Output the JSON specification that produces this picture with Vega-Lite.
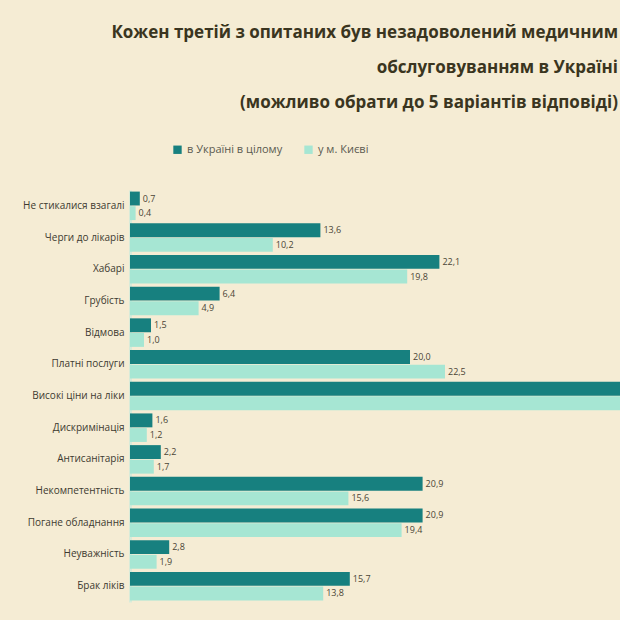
{
  "$schema": "https://vega.github.io/schema/vega-lite/v6.json",
  "autosize": {"type": "none"},
  "width": 490,
  "height": 412,
  "padding": {"left": 130, "top": 190, "right": 0, "bottom": 18},
  "background": "#f5ecd4",
  "title": {
    "text": [
      "Кожен третій з опитаних був незадоволений медичним",
      "обслуговуванням в Україні",
      "(можливо обрати до 5 варіантів відповіді)"
    ],
    "anchor": "end",
    "align": "right",
    "frame": "group",
    "dx": -2,
    "offset": 32,
    "fontSize": 17,
    "fontWeight": "bold",
    "font": "Open Sans",
    "color": "#3a3520",
    "lineHeight": 35
  },
  "data": {
    "values": [
      {"category": "Не стикалися взагалі", "series": "в Україні в цілому", "value": 0.7},
      {"category": "Не стикалися взагалі", "series": "у м. Києві", "value": 0.4},
      {"category": "Черги до лікарів", "series": "в Україні в цілому", "value": 13.6},
      {"category": "Черги до лікарів", "series": "у м. Києві", "value": 10.2},
      {"category": "Хабарі", "series": "в Україні в цілому", "value": 22.1},
      {"category": "Хабарі", "series": "у м. Києві", "value": 19.8},
      {"category": "Грубість", "series": "в Україні в цілому", "value": 6.4},
      {"category": "Грубість", "series": "у м. Києві", "value": 4.9},
      {"category": "Відмова", "series": "в Україні в цілому", "value": 1.5},
      {"category": "Відмова", "series": "у м. Києві", "value": 1.0},
      {"category": "Платні послуги", "series": "в Україні в цілому", "value": 20.0},
      {"category": "Платні послуги", "series": "у м. Києві", "value": 22.5},
      {"category": "Високі ціни на ліки", "series": "в Україні в цілому", "value": 40.0},
      {"category": "Високі ціни на ліки", "series": "у м. Києві", "value": 38.0},
      {"category": "Дискримінація", "series": "в Україні в цілому", "value": 1.6},
      {"category": "Дискримінація", "series": "у м. Києві", "value": 1.2},
      {"category": "Антисанітарія", "series": "в Україні в цілому", "value": 2.2},
      {"category": "Антисанітарія", "series": "у м. Києві", "value": 1.7},
      {"category": "Некомпетентність", "series": "в Україні в цілому", "value": 20.9},
      {"category": "Некомпетентність", "series": "у м. Києві", "value": 15.6},
      {"category": "Погане обладнання", "series": "в Україні в цілому", "value": 20.9},
      {"category": "Погане обладнання", "series": "у м. Києві", "value": 19.4},
      {"category": "Неуважність", "series": "в Україні в цілому", "value": 2.8},
      {"category": "Неуважність", "series": "у м. Києві", "value": 1.9},
      {"category": "Брак ліків", "series": "в Україні в цілому", "value": 15.7},
      {"category": "Брак ліків", "series": "у м. Києві", "value": 13.8}
    ]
  },
  "encoding": {
    "y": {
      "field": "category",
      "type": "nominal",
      "sort": null,
      "title": null,
      "scale": {"paddingInner": 0.1, "paddingOuter": 0.05},
      "axis": {
        "domain": true,
        "domainColor": "#d8ebd9",
        "domainWidth": 3,
        "ticks": false,
        "labelFontSize": 10,
        "labelColor": "#3d3a30",
        "labelFont": "Open Sans",
        "labelPadding": 6,
        "labelLimit": 128
      }
    },
    "yOffset": {
      "field": "series",
      "type": "nominal",
      "sort": ["в Україні в цілому", "у м. Києві"],
      "scale": {"paddingInner": 0.05}
    },
    "x": {
      "field": "value",
      "type": "quantitative",
      "scale": {"domain": [0, 35]},
      "axis": null
    },
    "color": {
      "field": "series",
      "type": "nominal",
      "sort": ["в Україні в цілому", "у м. Києві"],
      "scale": {"range": ["#17807f", "#a6e6d3"]},
      "legend": {
        "orient": "none",
        "legendX": 42,
        "legendY": -46,
        "direction": "horizontal",
        "title": null,
        "symbolType": "square",
        "symbolSize": 70,
        "symbolStrokeWidth": 0,
        "labelFontSize": 11,
        "labelColor": "#5a5a50",
        "labelFont": "Open Sans",
        "columnPadding": 20
      }
    }
  },
  "layer": [
    {"mark": {"type": "bar", "clip": true}},
    {
      "transform": [{"filter": "datum.value < 35"}],
      "mark": {
        "type": "text",
        "align": "left",
        "baseline": "middle",
        "dx": 3,
        "fontSize": 9,
        "font": "Open Sans"
      },
      "encoding": {
        "text": {"field": "value", "type": "quantitative", "format": ".1f"},
        "color": {"value": "#4a4536"}
      }
    }
  ],
  "config": {
    "view": {"stroke": null},
    "locale": {
      "number": {
        "decimal": ",",
        "thousands": " ",
        "grouping": [3],
        "currency": ["", " грн"]
      }
    }
  }
}
